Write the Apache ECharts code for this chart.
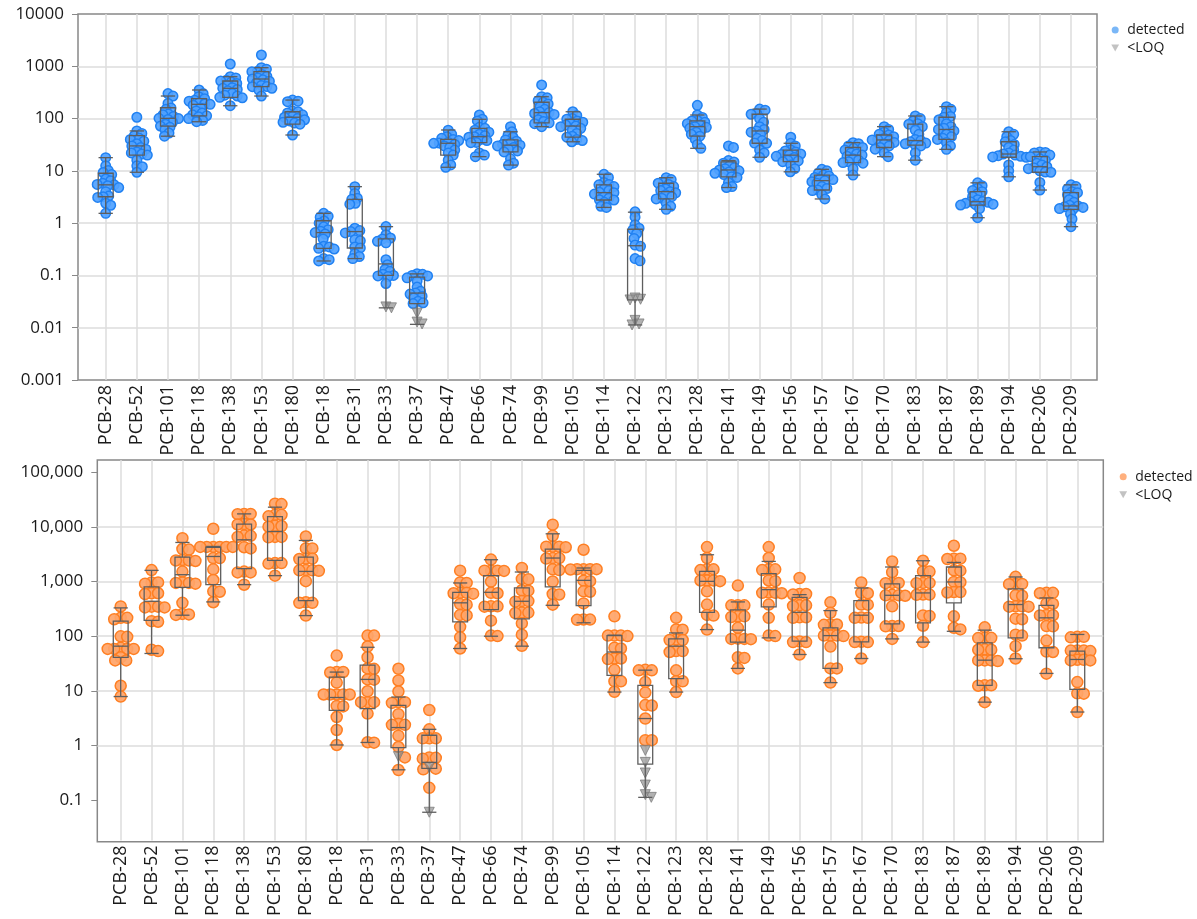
<!DOCTYPE html>
<html><head><meta charset="utf-8">
<script src="https://cdn.jsdelivr.net/npm/echarts@6/dist/echarts.min.js"></script>
<style>html,body{margin:0;padding:0;background:#fff}#c{width:1197px;height:919px}</style>
</head><body><div id="c"></div>
<script>
const categories = ['PCB-28','PCB-52','PCB-101','PCB-118','PCB-138','PCB-153','PCB-180','PCB-18','PCB-31','PCB-33','PCB-37','PCB-47','PCB-66','PCB-74','PCB-99','PCB-105','PCB-114','PCB-122','PCB-123','PCB-128','PCB-141','PCB-149','PCB-156','PCB-157','PCB-167','PCB-170','PCB-183','PCB-187','PCB-189','PCB-194','PCB-206','PCB-209'];

const topTicks = [0.001, 0.01, 0.1, 1, 10, 100, 1000, 10000];
const bottomTicks = [0.1, 1, 10, 100, 1000, 10000, 100000];

// box stats [low whisker, Q1, median, Q3, high whisker]
const topBox = [
  [1.54,3.2,5.4,9,17.9],[9.4,20,30,47,58],[46,72,101,161,270],[87,113,187,240,352],
  [176,255,379,523,632],[270,407,571,788,940],[48.5,78,106,135,226],[0.189,0.33,0.66,1.11,1.54],
  [0.21,0.335,0.69,2.85,4.99],[0.024,0.10,0.166,0.50,0.857],[0.0116,0.029,0.046,0.093,0.107],[11.7,20,33.7,40,60.5],
  [18.7,34.6,45,65,97],[12.9,23,31,39,56],[70,83,130,205,262],[36,44,72,97,135],
  [2.0,2.77,3.83,5.4,8.6],[0.0113,0.034,0.37,0.765,1.62],[1.84,2.9,4.0,5.8,7.4],[27,46,70,90,117],
  [4.8,7.7,10.4,14.8,15.7],[18.2,33.7,58,121,152],[9.6,15,20,25,33.7],[2.9,4.3,6.5,8.3,10.7],
  [8.3,14.4,20,28,34.6],[18.7,28,39,48.5,70],[16,31,38,78,112],[25.8,40,62,106,169],
  [1.27,2.22,2.57,4.0,5.9],[7.7,18.2,21,36,56],[4.3,9.4,12,18.7,23],[0.857,1.84,2.13,3.83,5.4]
];
const topDetected = [
  [17.9,12.5,10.2,9.3,8.5,7,6.5,5.8,5.5,5.4,5.2,4.8,4,3.3,3.2,3.1,2.4,2.2,1.54],
  [106,58,52,47,42,40,37,33,30,28,26,23,22,21,20,16,12.5,12,9.4],
  [300,270,195,160,150,122,118,110,101,100,96,85,78,72,68,62,53,46],
  [352,300,262,240,225,215,200,190,187,180,160,140,128,118,113,108,100,92,87],
  [1106,632,600,540,523,500,470,430,390,379,360,340,300,280,270,255,250,176],
  [1644,940,880,800,788,700,640,600,571,550,520,480,430,410,407,380,350,270],
  [226,215,210,140,135,128,118,110,106,100,95,90,85,82,78,48.5],
  [1.54,1.35,1.3,1.1,1.0,0.85,0.75,0.7,0.66,0.62,0.5,0.36,0.35,0.33,0.32,0.21,0.2,0.189],
  [4.99,3.7,3.0,2.85,2.4,2.3,0.8,0.72,0.69,0.65,0.48,0.46,0.35,0.335,0.26,0.23,0.21],
  [0.86,0.6,0.52,0.5,0.45,0.42,0.2,0.16,0.13,0.12,0.105,0.1,0.098,0.095,0.07],
  [0.108,0.105,0.1,0.098,0.09,0.078,0.06,0.05,0.046,0.044,0.04,0.037,0.032,0.03,0.029],
  [60,50,45,42,40,38,35,34,33.7,32,30,28,25,22,20,16,13,11.7],
  [117,97,90,68,65,60,55,50,47,45,44,40,38,35,34.6,22,20,18.7],
  [70,56,48,44,39,37,34,32,31,30,28,26,24,23,17,14,12.9],
  [439,262,250,220,205,190,170,150,135,130,125,120,110,95,88,83,80,70],
  [135,115,100,97,90,85,80,75,72,70,65,60,52,46,44,40,38,36],
  [8.6,7.5,6,5.5,5.4,5,4.5,4.2,3.9,3.83,3.6,3.2,3,2.8,2.77,2.5,2.1,2.0],
  [1.65,1.3,0.93,0.8,0.75,0.63,0.51,0.38,0.36,0.21,0.19],
  [7.4,6.8,6,5.8,5.5,5,4.5,4.2,4,3.8,3.5,3.2,3,2.9,2.4,2.1,1.84],
  [179,117,105,92,90,85,80,75,70,68,65,60,55,50,46,40,32,27],
  [30,28,15.7,14.8,14,12.5,11.5,11,10.4,10,9.5,9,8.5,7.7,7.5,6,5,4.8],
  [152,145,125,121,100,85,70,62,58,55,50,42,38,34,33.7,25,22,18.2],
  [44,33.7,30,25,24,23,21,20.5,20,19,18,16,15.5,15,13,11,9.6],
  [10.7,10,9,8.3,8,7.5,7,6.8,6.5,6.2,5.8,5,4.6,4.3,4.2,3.5,2.9],
  [34.6,33,30,28,27,25,22,21,20,19,17,16,15,14.4,14,11,8.3],
  [70,62,55,50,48.5,45,42,40,39,38,35,33,30,28,26,22,18.7],
  [112,100,90,80,78,70,60,50,40,38,36,34,33,31,30,22,16],
  [169,150,130,110,106,95,80,70,65,62,58,50,45,42,40,35,30,25.8],
  [5.9,5.2,4.6,4.2,4,3.6,3.2,2.8,2.6,2.57,2.5,2.4,2.3,2.25,2.22,1.9,1.27],
  [56,50,45,38,36,32,28,25,22,21,20,19.5,19,18.5,18.2,13,10,7.7],
  [23,22.5,22,20,18.7,17,16,14,13,12,11.5,11,10,9.5,9.4,6,4.3],
  [5.4,5,4.5,4,3.83,3.5,3.2,2.8,2.5,2.2,2.13,2.05,2,1.9,1.84,1.5,1.2,0.857]
];
const topLOQ = [
  [],[],[],[],[],[],[],[],[],[0.025,0.024],[0.019,0.0128,0.0118],[],[],[],[],[],
  [],[0.037,0.035,0.034,0.0138,0.0118,0.0113],[],[],[],[],[],[],[],[],[],[],[],[],[],[]
];

const bottomBox = [
  [7.6,40,64,184,323],[47,191,427,783,1578],[237,771,1315,2775,5140],[416,863,2840,4200,4340],
  [863,1694,5750,11160,17200],[1262,2400,8170,15380,22850],[233,440,1510,2775,5590],[0.98,4.25,7.3,17.3,21.4],
  [1.09,4.56,15.7,28.7,61],[0.343,0.88,2.05,5.25,7.44],[0.057,0.363,0.47,1.48,1.9],[58,179,400,624,927],
  [97.5,301,624,1262,2477],[64,203,427,750,1473],[360,783,2660,3890,7410],[172,356,1035,1578,1746],
  [9.2,18.6,50,100,102],[0.107,0.435,3,12.2,23.2],[9.2,16.2,64,87,112],[129,268,991,1510,3054],
  [25,76,126,297,416],[91,336,699,1371,2306],[45,79,268,505,566],[13.7,25,100,139,288],
  [38,77,237,440,750],[87,164,550,889,1820],[76,172,608,1262,2372],[120,398,967,1820,2208],
  [6.0,12.2,35.4,73.8,126],[37.6,91,372,720,1194],[20.2,59.8,212,360,492],[3.95,10.3,36.5,51.8,105]
];
const bottomDetected = [
  [343,212,212,200,97,95,60,57,57,57,57,40,35,35,12,7.6],
  [1600,950,950,900,600,580,600,340,330,330,340,184,180,55,52],
  [6160,3890,3800,2400,2400,2350,2450,1500,930,930,900,950,400,250,245,240],
  [9160,4250,4250,4250,4250,4250,4250,2650,2650,1650,1050,650,640,410],
  [17200,17200,17000,11200,11000,11000,6900,6800,6500,4200,4000,1500,1450,1450,860],
  [26500,26000,16500,16500,15500,10400,10300,10000,6500,6400,6500,2150,2150,2100,1260],
  [6600,4000,4000,2600,2550,2600,1580,1600,1580,1550,1000,410,400,400,233],
  [43,21.5,21.5,21,13.7,8.3,8.3,8.3,8.3,8.3,5.1,5.0,3.2,1.85,0.98],
  [100,100,63,40,25,24.5,15.7,15.5,9.5,6,6,6,3.7,1.1,1.08],
  [24.6,15,9.4,6,6,5.8,3.6,2.4,2.3,2.3,1.45,0.9,0.58,0.34],
  [4.3,1.9,1.3,1.3,1.3,0.58,0.57,0.55,0.36,0.35,0.16],
  [1560,950,930,610,600,610,590,380,370,240,235,145,93,58],
  [2490,1560,1560,1560,1540,985,610,600,345,340,345,188,100,98],
  [1750,1100,1080,680,670,430,430,420,265,260,265,168,104,65],
  [10900,6800,4300,4300,4300,4200,2650,2650,2600,1650,1600,985,580,570,370],
  [3780,1660,1660,1660,1640,1660,1020,1000,650,640,390,198,197,195],
  [226,100,100,100,98,60,58,38,38,37,23.5,14.5,14.5,9.3],
  [23.5,23,23,14,9,5.3,5.2,3,1.2,1.2],
  [212,130,128,85,83,83,52,52,50,23,14.5,14.5,9.2],
  [4230,2660,1650,1650,1600,1030,1030,1030,1000,650,372,240,233,129],
  [830,360,360,360,226,226,220,139,88,87,87,86,40,39,25],
  [4230,2660,1650,1650,1600,1030,1000,620,610,610,600,372,212,100,98],
  [1145,580,570,580,360,360,350,217,212,217,78,76,76,45],
  [409,262,160,158,160,100,100,100,98,63,25,25,13.7],
  [950,610,600,372,370,215,212,212,77,76,76,38],
  [2300,1460,930,920,930,560,550,550,540,345,150,150,148,87],
  [2370,1510,1500,930,920,930,566,560,566,235,230,152,76],
  [4470,2590,2590,2550,1580,1560,970,960,630,620,630,226,139,130],
  [142,91,90,91,56,55,55,35,35,34,35,12.2,12,12.2,6],
  [1200,890,880,890,550,540,345,340,345,340,205,200,104,100,64,38],
  [610,610,600,390,385,240,237,235,150,148,81,51,50,20],
  [95,93,95,53,53,52,53,36,35,36,35,14,8.7,8.6,3.95]
];
const bottomLOQ = [
  [],[],[],[],[],[],[],[],[],[0.6],[0.38,0.057],[],[],[],[],[],
  [],[0.78,0.47,0.3,0.18,0.12,0.107],[],[],[],[],[],[],[],[],[],[],[],[],[],[]
];

const FONT = 'Open Sans, Noto Sans, sans-serif';
const BOTTOM_RANGE = [Math.pow(10, -1.7637), Math.pow(10, 5.2253)];
const chart = echarts.init(document.getElementById('c'), null, {renderer: 'canvas', width: 1197, height: 919});
const gridLine = {show: true, showMinLine: false, showMaxLine: false, lineStyle: {color: '#dcdcdc', width: 1.5}};

function fmtTop(v) { return String(Number(Number(v).toPrecision(6))); }
function fmtBottom(v) { const n = Number(Number(v).toPrecision(6)); return n >= 1 ? n.toLocaleString('en-US') : String(n); }

function catAxis(gi) {
  return {gridIndex: gi, type: 'value', min: 0, max: categories.length - 1, interval: 1,
    axisLine: {show: false}, axisTick: {show: false}, splitLine: {show: true, lineStyle: {color: '#dcdcdc', width: 1.5}},
    axisLabel: {rotate: 90, margin: 5, fontSize: 18, color: '#1a1a1a', fontFamily: FONT, formatter: v => categories[v] || ''}};
}
function valAxis(gi, range, ticks, fmt) {
  return {gridIndex: gi, type: 'log', logBase: 10, min: range[0], max: range[1],
    axisLine: {show: false},
    axisTick: {show: true, length: 6, lineStyle: {color: '#888'}, customValues: ticks},
    axisLabel: {customValues: ticks, formatter: fmt, fontSize: 17, color: '#1a1a1a', fontFamily: FONT, margin: 14},
    splitLine: gridLine};
}
function hiddenY(gi, range) { return {gridIndex: gi, type: 'log', logBase: 10, min: range[0], max: range[1], show: false}; }

function boxItem(params, api) {
  const i = api.value(0);
  const p = k => api.coord([i, api.value(k)]);
  const lo = p(1), q1 = p(2), md = p(3), q3 = p(4), hi = p(5);
  const unit = api.coord([i + 1, api.value(3)])[0] - md[0];
  const hw = unit * 0.24, cw = unit * 0.23, cx = md[0];
  const st = {stroke: '#5e5e5e', lineWidth: 1.3, fill: 'none'};
  return {type: 'group', children: [
    {type: 'rect', shape: {x: cx - hw, y: q3[1], width: 2 * hw, height: q1[1] - q3[1]}, style: st},
    {type: 'line', shape: {x1: cx - hw, y1: md[1], x2: cx + hw, y2: md[1]}, style: st},
    {type: 'line', shape: {x1: cx, y1: q3[1], x2: cx, y2: hi[1]}, style: st},
    {type: 'line', shape: {x1: cx, y1: q1[1], x2: cx, y2: lo[1]}, style: st},
    {type: 'line', shape: {x1: cx - cw, y1: hi[1], x2: cx + cw, y2: hi[1]}, style: st},
    {type: 'line', shape: {x1: cx - cw, y1: lo[1], x2: cx + cw, y2: lo[1]}, style: st}
  ]};
}

const topDet = {fill: 'rgba(80,162,255,0.92)', border: '#2081f2'};
const botDet = {fill: 'rgba(255,164,104,0.92)', border: '#ff7f22'};
const loqStyle = {color: 'rgba(140,140,140,0.85)', borderColor: '#7d7d7d', borderWidth: 1};
const downTri = 'path://M0,0 L10,0 L5,9 Z';

const option = {
  animation: false,
  backgroundColor: '#fff',
  grid: [
    {left: 78, top: 14, width: 1019, height: 366, show: true, borderColor: '#888', borderWidth: 1.5, backgroundColor: 'transparent'},
    {left: 105.7, top: 14, width: 965.3, height: 366},
    {left: 97.3, top: 460, width: 1006, height: 381.7, show: true, borderColor: '#888', borderWidth: 1.5, backgroundColor: 'transparent'},
    {left: 120.7, top: 460, width: 956.6, height: 381.7}
  ],
  xAxis: [
    {gridIndex: 0, type: 'value', min: 0, max: 1, show: false},
    catAxis(1),
    {gridIndex: 2, type: 'value', min: 0, max: 1, show: false},
    catAxis(3)
  ],
  yAxis: [
    valAxis(0, [topTicks[0], topTicks[topTicks.length - 1]], topTicks, fmtTop),
    hiddenY(1, [topTicks[0], topTicks[topTicks.length - 1]]),
    valAxis(2, BOTTOM_RANGE, bottomTicks, fmtBottom),
    hiddenY(3, BOTTOM_RANGE)
  ],
  legend: [
    {orient: 'vertical', left: 1106.3, top: 18, itemWidth: 14, itemHeight: 7, itemGap: 4, selectedMode: false,
     textStyle: {fontSize: 14, color: '#1a1a1a', fontFamily: FONT, lineHeight: 14},
     data: [{name: 'detected', icon: 'circle', itemStyle: {color: '#7ab7f7', borderWidth: 0}},
            {name: '<LOQ', icon: downTri, itemStyle: {color: '#b3b3b3', borderWidth: 0}}]},
    {orient: 'vertical', left: 1114.3, top: 464.7, itemWidth: 14, itemHeight: 7, itemGap: 4, selectedMode: false,
     textStyle: {fontSize: 14, color: '#1a1a1a', fontFamily: FONT, lineHeight: 14},
     data: [{name: 'detected', icon: 'circle', itemStyle: {color: '#ffb07e', borderWidth: 0}},
            {name: '<LOQ', icon: downTri, itemStyle: {color: '#b3b3b3', borderWidth: 0}}]}
  ],
  series: [
    {id: 'td', name: 'detected', type: 'scatter', xAxisIndex: 1, yAxisIndex: 1, clip: false, symbol: 'circle', symbolSize: 9.5, z: 2,
     itemStyle: {color: topDet.fill, borderColor: topDet.border, borderWidth: 1.5, opacity: 1}, data: []},
    {id: 'tl', name: '<LOQ', type: 'scatter', xAxisIndex: 1, yAxisIndex: 1, clip: false, symbol: 'triangle', symbolRotate: 180, symbolSize: 10, z: 2,
     itemStyle: loqStyle, data: []},
    {id: 'tb', name: 'box', type: 'custom', xAxisIndex: 1, yAxisIndex: 1, clip: false, z: 3, renderItem: boxItem,
     encode: {x: 0, y: [1, 2, 3, 4, 5]}, data: topBox.map((b, i) => [i].concat(b))},
    {id: 'bd', name: 'detected', type: 'scatter', xAxisIndex: 3, yAxisIndex: 3, clip: false, symbol: 'circle', symbolSize: 11, z: 2,
     itemStyle: {color: botDet.fill, borderColor: botDet.border, borderWidth: 1.5, opacity: 1}, data: []},
    {id: 'bl', name: '<LOQ', type: 'scatter', xAxisIndex: 3, yAxisIndex: 3, clip: false, symbol: 'triangle', symbolRotate: 180, symbolSize: 10, z: 2,
     itemStyle: loqStyle, data: []},
    {id: 'bb', name: 'box', type: 'custom', xAxisIndex: 3, yAxisIndex: 3, clip: false, z: 3, renderItem: boxItem,
     encode: {x: 0, y: [1, 2, 3, 4, 5]}, data: bottomBox.map((b, i) => [i].concat(b))}
  ]
};
chart.setOption(option);

// beeswarm layout in pixel space, via the chart's own scales
function swarm(detLists, loqLists, axisIdx, minDist) {
  const pxUnit = chart.convertToPixel({xAxisIndex: axisIdx}, 1) - chart.convertToPixel({xAxisIndex: axisIdx}, 0);
  const det = [], loq = [];
  categories.forEach((c, i) => {
    const pts = [];
    detLists[i].forEach(v => pts.push({v, loq: false}));
    loqLists[i].forEach(v => pts.push({v, loq: true}));
    pts.forEach(p => { p.y = chart.convertToPixel({yAxisIndex: axisIdx}, p.v); });
    pts.sort((a, b) => a.y - b.y);
    const placed = [];
    pts.forEach(p => {
      let off = 0;
      for (let k = 0; k < 600; k++) {
        const cand = (k % 2 === 1 ? 1 : -1) * Math.ceil(k / 2) * 0.5;
        if (placed.every(q => (q.x - cand) * (q.x - cand) + (q.y - p.y) * (q.y - p.y) >= minDist * minDist)) { off = cand; break; }
      }
      placed.push({x: off, y: p.y});
      (p.loq ? loq : det).push([i + off / pxUnit, p.v]);
    });
  });
  return {det, loq};
}
const ts = swarm(topDetected, topLOQ, 1, 5.2);
const bs = swarm(bottomDetected, bottomLOQ, 3, 6.3);
chart.setOption({series: [
  {id: 'td', data: ts.det}, {id: 'tl', data: ts.loq},
  {id: 'bd', data: bs.det}, {id: 'bl', data: bs.loq}
]});
</script>
</body></html>
